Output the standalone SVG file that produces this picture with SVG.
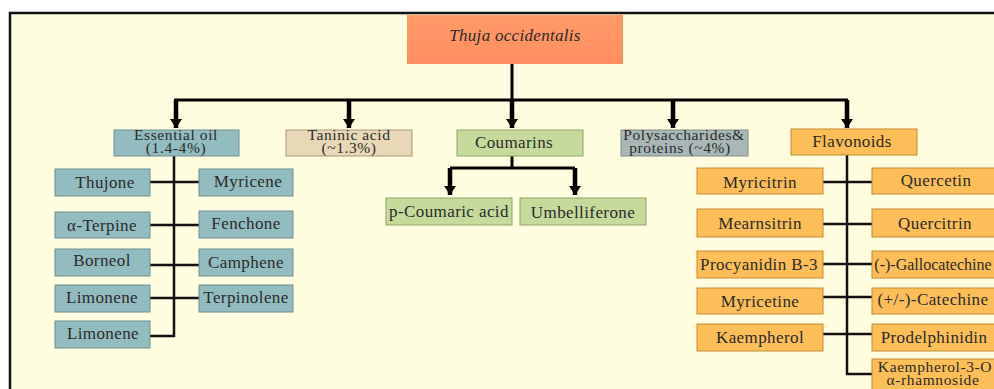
<svg xmlns="http://www.w3.org/2000/svg" width="994" height="389" viewBox="0 0 994 389">
<defs>
<marker id="ah" markerUnits="userSpaceOnUse" markerWidth="14" markerHeight="14" refX="9" refY="7" orient="auto">
<path d="M0,1 L9,7 L0,13 z" fill="#000"/>
</marker>
<linearGradient id="tg" x1="0" y1="0" x2="0" y2="1">
<stop offset="0" stop-color="#FF9966"/><stop offset="1" stop-color="#FF8E62"/>
</linearGradient>
</defs>
<style>
.t{font-family:"Liberation Serif","Times New Roman",serif;font-size:17px;letter-spacing:0.4px;fill:#2a2a2a;text-anchor:middle}
.s{font-family:"Liberation Serif","Times New Roman",serif;font-size:15.5px;letter-spacing:0.6px;fill:#2a2a2a;text-anchor:middle}
.bl{fill:#93BCC0;stroke:#6E8E90;stroke-width:1}
.tn{fill:#E8D8B8;stroke:#A89878;stroke-width:1}
.gr{fill:#C6DA9C;stroke:#8EA46A;stroke-width:1}
.gy{fill:#A9B8B6;stroke:#808C8A;stroke-width:1}
.or{fill:#FCBE58;stroke:#C08A30;stroke-width:1}
.ln{fill:none;stroke:#111;stroke-width:2.5}
.ar{fill:none;stroke:#000;stroke-width:4.5;marker-end:url(#ah)}
.bar{fill:none;stroke:#000;stroke-width:3}
</style>
<rect x="0" y="0" width="994" height="389" fill="#fff"/>
<rect x="10" y="13" width="1000" height="400" fill="#FFFDDF" stroke="#111" stroke-width="2.5"/>

<g id="connectors">
<path class="bar" d="M512,64 V100 M174,100 H848"/>
<path class="ar" d="M176,100 V128"/>
<path class="ar" d="M349,100 V128"/>
<path class="ar" d="M512,100 V128"/>
<path class="ar" d="M673,100 V128"/>
<path class="ar" d="M847,100 V128"/>
<path class="bar" d="M512,156 V168 M450,168 H575"/>
<path class="ar" d="M450,168 V195"/>
<path class="ar" d="M575,168 V195"/>
<path class="ln" d="M174,156 V336 H150 M150,182 H199 M150,225 H199 M150,265 H199 M150,298 H199"/>
<path class="ln" d="M847,155 V374 H872 M823,182 H872 M823,224 H872 M823,264 H872 M823,297 H872 M823,334 H872"/>
</g>

<g id="root"><rect x="407" y="15" width="216" height="49" fill="url(#tg)"/><text x="515" y="41" style="font-family:'Liberation Serif',serif;font-size:17px;font-style:italic;letter-spacing:0.3px;fill:#2a2a2a;text-anchor:middle">Thuja occidentalis</text></g>

<g id="essential-oil"><rect class="bl" x="114" y="130" width="125" height="26"/><text class="s" x="176" y="140">Essential oil<tspan x="176" dy="13">(1.4-4%)</tspan></text></g>
<g id="taninic-acid"><rect class="tn" x="286" y="130" width="126" height="26"/><text class="s" x="349" y="140">Taninic acid<tspan x="349" dy="13">(~1.3%)</tspan></text></g>
<g id="coumarins"><rect class="gr" x="457" y="130" width="126" height="26"/><text class="t" x="514" y="148">Coumarins</text></g>
<g id="polysaccharides"><rect class="gy" x="621" y="130" width="127" height="26"/><text class="s" x="684" y="140">Polysaccharides&amp;<tspan x="680" dy="13">proteins (~4%)</tspan></text></g>
<g id="flavonoids"><rect class="or" x="791" y="129" width="126" height="26"/><text class="t" x="852" y="147">Flavonoids</text></g>

<g id="thujone"><rect class="bl" x="55" y="169" width="95" height="27"/><text class="t" x="105" y="188">Thujone</text></g>
<g id="myricene"><rect class="bl" x="199" y="169" width="94" height="27"/><text class="t" x="248" y="187">Myricene</text></g>
<g id="a-terpine"><rect class="bl" x="55" y="212" width="95" height="26"/><text class="t" x="102" y="231">α-Terpine</text></g>
<g id="fenchone"><rect class="bl" x="199" y="211" width="94" height="27"/><text class="t" x="246" y="229">Fenchone</text></g>
<g id="borneol"><rect class="bl" x="55" y="249" width="95" height="27"/><text class="t" x="102" y="266">Borneol</text></g>
<g id="camphene"><rect class="bl" x="199" y="249" width="94" height="27"/><text class="t" x="246" y="268">Camphene</text></g>
<g id="limonene1"><rect class="bl" x="55" y="285" width="95" height="27"/><text class="t" x="102" y="303">Limonene</text></g>
<g id="terpinolene"><rect class="bl" x="199" y="285" width="94" height="27"/><text class="t" x="246" y="303">Terpinolene</text></g>
<g id="limonene2"><rect class="bl" x="55" y="321" width="95" height="27"/><text class="t" x="103" y="339">Limonene</text></g>

<g id="p-coumaric"><rect class="gr" x="386" y="198" width="126" height="27"/><text class="t" x="449" y="217">p-Coumaric acid</text></g>
<g id="umbelliferone"><rect class="gr" x="520" y="198" width="126" height="27"/><text class="t" x="583" y="218">Umbelliferone</text></g>

<g id="myricitrin"><rect class="or" x="697" y="168" width="126" height="26"/><text class="t" x="760" y="188">Myricitrin</text></g>
<g id="quercetin"><rect class="or" x="872" y="168" width="126" height="26"/><text class="t" x="936" y="186">Quercetin</text></g>
<g id="mearnsitrin"><rect class="or" x="697" y="209" width="126" height="28"/><text class="t" x="760" y="229">Mearnsitrin</text></g>
<g id="quercitrin"><rect class="or" x="872" y="209" width="126" height="28"/><text class="t" x="935" y="229">Quercitrin</text></g>
<g id="procyanidin"><rect class="or" x="697" y="251" width="126" height="27"/><text class="t" x="759" y="270">Procyanidin B-3</text></g>
<g id="gallocatechine"><rect class="or" x="872" y="251" width="126" height="27"/><text class="t" x="933" y="270" style="font-size:16px;letter-spacing:0">(-)-Gallocatechine</text></g>
<g id="myricetine"><rect class="or" x="697" y="288" width="126" height="26"/><text class="t" x="760" y="307">Myricetine</text></g>
<g id="catechine"><rect class="or" x="872" y="288" width="126" height="26"/><text class="t" x="933" y="305">(+/-)-Catechine</text></g>
<g id="kaempherol"><rect class="or" x="697" y="324" width="126" height="27"/><text class="t" x="760" y="343">Kaempherol</text></g>
<g id="prodelphinidin"><rect class="or" x="872" y="324" width="126" height="27"/><text class="t" x="934" y="343">Prodelphinidin</text></g>
<g id="kaempherol-3-o"><rect class="or" x="872" y="359" width="126" height="34"/><text class="s" x="935" y="372">Kaempherol-3-O<tspan x="933" dy="13">α-rhamnoside</tspan></text></g>
</svg>
